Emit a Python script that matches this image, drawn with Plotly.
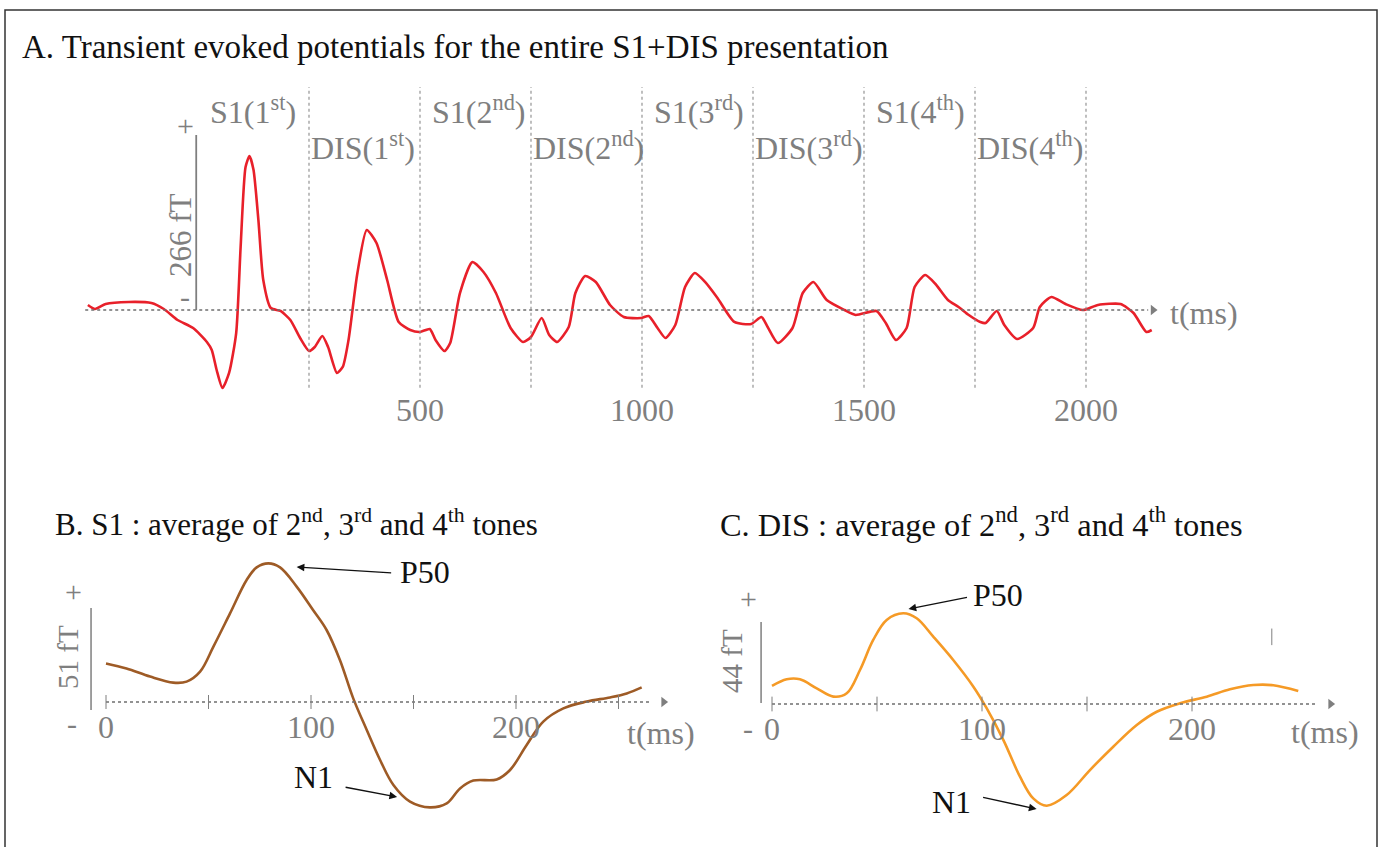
import plotly.graph_objects as go

# ---------------- data ----------------
# Panel A: transient evoked response for the whole S1+DIS sequence (time in ms, field in fT)
tA = [-248, -232, -208, -156, -105, -77, -46, -11, 20, 31, 42, 55, 70, 86, 96, 107, 116, 125, 136, 147,
      164, 186, 208, 230, 250, 263, 280, 293, 313, 326, 339, 359, 380, 402, 426, 452, 478, 500, 522, 535,
      555, 568, 590, 618, 643, 671, 704, 732, 750, 774, 791, 809, 835, 850, 872, 896, 928, 959, 998, 1015,
      1035, 1053, 1075, 1097, 1119, 1142, 1170, 1208, 1246, 1269, 1283, 1306, 1339, 1362, 1386, 1416, 1456,
      1481, 1528, 1549, 1572, 1596, 1614, 1638, 1661, 1689, 1713, 1736, 1762, 1774, 1799, 1816, 1845, 1881,
      1896, 1922, 1954, 1993, 2027, 2078, 2107, 2136, 2148]
vA = [7.6, 1.5, 9.1, 12.2, 10.6, 1.5, -15.2, -27.4, -48.6, -60.8, -91.2, -118.5, -95.7, -35, 95.7, 217, 234,
      213, 137, 45.6, 3, -1.5, -15.2, -42.6, -62.3, -56.2, -39.5, -56.2, -95.7, -86.6, -45.6, 56.2, 121.6,
      101.8, 45.6, -18.2, -30.4, -33.4, -28.9, -45.6, -62.3, -50.2, 25.8, 72.9, 57.8, 25.8, -27.4, -48.6,
      -41, -12.2, -38, -48.6, -25.8, 25.8, 51.7, 42.6, 7.6, -10.6, -12.2, -9.1, -27.4, -42.6, -22.8, 35,
      56.2, 42.6, 18.2, -18.2, -21.3, -10.6, -25.8, -50.2, -27.4, 25.8, 42.6, 15.2, 0, -7.6, -1.5, -19.8,
      -45.6, -27.4, 35, 53.2, 39.5, 15.2, 4.6, -7.6, -18.2, -19.8, -1.5, -22.8, -44.1, -27.4, 4.6, 19.8,
      9.1, 0, 7.6, 9.1, -4.6, -33.4, -30.4]
onsetsA = [250, 500, 750, 1000, 1250, 1500, 1750, 2000]
segLabels = ["S1(1<sup>st</sup>)", "DIS(1<sup>st</sup>)", "S1(2<sup>nd</sup>)", "DIS(2<sup>nd</sup>)",
             "S1(3<sup>rd</sup>)", "DIS(3<sup>rd</sup>)", "S1(4<sup>th</sup>)", "DIS(4<sup>th</sup>)"]
segOnsets = [0, 250, 500, 750, 1000, 1250, 1500, 1750]
ticksA = [500, 1000, 1500, 2000]
scaleA = 266

# Panel B: S1 average of 2nd, 3rd, 4th tones
tB = [0, 10, 21.5, 32.8, 39.3, 45.9, 52.4, 60.5, 68.6, 73.5, 79.2, 84.9, 93, 101, 107.6, 114.1, 120.6,
      127.2, 133.7, 140.2, 148.3, 158, 166.2, 172.7, 179.2, 190.6, 197.1, 205.2, 213.3, 223.1, 234.5,
      245.9, 254, 261.3]
vB = [19.3, 16.8, 12.7, 9.7, 10.2, 15.2, 27.7, 44.3, 61, 67.3, 69.3, 67.3, 57.7, 46, 36, 21, 1.8, -14,
      -29, -41.5, -49.8, -52.7, -50.7, -43.2, -39.3, -38.7, -34, -21.5, -9.8, -3.2, 0.2, 2.3, 4.3, 7.3]
ticksB = [0, 50, 100, 150, 200, 250]
labelsB = [0, 100, 200]
scaleB = 51
peaksB = {"P50": (93, 67.5), "N1": (142, -47.5)}

# Panel C: DIS average of 2nd, 3rd, 4th tones
tC = [0, 7, 13.3, 21.3, 29.2, 35.6, 41.9, 48.2, 54.6, 62.5, 68.9, 76.8, 86.3, 95.9, 102.2, 110.2, 118.1,
      124.4, 130.8, 140.3, 151.4, 162.5, 173.7, 183.2, 194.3, 207, 218.1, 229.2, 238.7, 250.6]
vC = [9.8, 13.4, 13.4, 8.5, 4, 5.8, 18.5, 34.8, 45.7, 49.3, 46.6, 36.6, 23.9, 9.4, -2.3, -19.6, -39.5,
      -51.3, -55.3, -49.5, -35.9, -23.2, -11.4, -4.2, 0.4, 4, 8, 10.3, 10.2, 7.1]
ticksC = [0, 50, 100, 150, 200]
labelsC = [0, 100, 200]
scaleC = 44
peaksC = {"P50": (65, 51.6), "N1": (126, -57.1)}

# ---------------- layout helpers ----------------
W, H = 1385, 847
def px(x): return x / W
def py(y): return 1 - y / H

def axis_ranges(box, t0, sx, v0, sy):
    x0, x1, y0, y1 = box
    xr = [(x0 - t0) / sx, (x1 - t0) / sx]
    yr = [(v0 - y1) / sy, (v0 - y0) / sy]
    return [px(x0), px(x1)], [py(y1), py(y0)], xr, yr

GREY = "#7f7f7f"
DOT = "#6f6f6f"
FONT = "Liberation Serif, Times New Roman, serif"
FS = 31        # panel titles
FSSEG = 32     # segment labels
FST = 32       # tick labels, t(ms), peaks
FSTITLE = 33

boxA = (30, 1300, 70, 395)
boxB = (30, 700, 545, 835)
boxC = (715, 1372, 560, 835)
dxA, dyA, xrA, yrA = axis_ranges(boxA, 198, 0.444, 310, 0.658)
dxB, dyB, xrB, yrB = axis_ranges(boxB, 106, 2.05, 702, 2.0)
dxC, dyC, xrC, yrC = axis_ranges(boxC, 772, 2.1, 704, 1.84)

fig = go.Figure()
fig.add_trace(go.Scatter(x=tA, y=vA, mode="lines", line=dict(color="#e8202a", width=2.6, shape="spline", smoothing=0.6),
                         xaxis="x", yaxis="y", hoverinfo="skip"))
fig.add_trace(go.Scatter(x=tB, y=vB, mode="lines", line=dict(color="#9e5b26", width=2.6, shape="spline", smoothing=1),
                         xaxis="x2", yaxis="y2", hoverinfo="skip"))
fig.add_trace(go.Scatter(x=tC, y=vC, mode="lines", line=dict(color="#f59a26", width=2.6, shape="spline", smoothing=1),
                         xaxis="x3", yaxis="y3", hoverinfo="skip"))

# axis arrowheads
arrow_ends = [("x", "y", 2151), ("x2", "y2", 272), ("x3", "y3", 266)]
for xa, ya, xe in arrow_ends:
    fig.add_trace(go.Scatter(x=[xe], y=[0], mode="markers", xaxis=xa, yaxis=ya, hoverinfo="skip",
                             marker=dict(symbol="triangle-right", size=9, color=GREY)))

shapes = []
# border
shapes.append(dict(type="rect", xref="paper", yref="paper", x0=px(5), x1=px(1377), y0=py(870), y1=py(10),
                   line=dict(color="#333333", width=1.5)))
# panel A zero line, dividers, scale bar
shapes.append(dict(type="line", xref="x", yref="y", x0=-254, x1=2140, y0=0, y1=0, line=dict(color=DOT, width=1.3, dash="dot")))
for t in onsetsA:
    shapes.append(dict(type="line", xref="x", yref="y", x0=t, x1=t, y0=-118, y1=339, line=dict(color="#8a8a8a", width=1.1, dash="dot")))
shapes.append(dict(type="line", xref="x", yref="y", x0=-4, x1=-4, y0=0, y1=scaleA, line=dict(color=GREY, width=1.8)))
# panel B
shapes.append(dict(type="line", xref="x2", yref="y2", x0=0, x1=265, y0=0, y1=0, line=dict(color=DOT, width=1.3, dash="dot")))
for t in ticksB:
    shapes.append(dict(type="line", xref="x2", yref="y2", x0=t, x1=t, y0=-3.5, y1=3.5, line=dict(color=GREY, width=1)))
shapes.append(dict(type="line", xref="x2", yref="y2", x0=-7.3, x1=-7.3, y0=-4, y1=-4 + scaleB, line=dict(color=GREY, width=1.5)))
# panel C
shapes.append(dict(type="line", xref="x3", yref="y3", x0=0, x1=260, y0=0, y1=0, line=dict(color=DOT, width=1.3, dash="dot")))
for t in ticksC:
    shapes.append(dict(type="line", xref="x3", yref="y3", x0=t, x1=t, y0=-4, y1=4, line=dict(color=GREY, width=1)))
shapes.append(dict(type="line", xref="x3", yref="y3", x0=238, x1=238, y0=32, y1=41, line=dict(color=GREY, width=1)))
shapes.append(dict(type="line", xref="x3", yref="y3", x0=-5.2, x1=-5.2, y0=0.5, y1=0.5 + scaleC, line=dict(color=GREY, width=1.5)))

ann = []
def txt(x, y, s, size=FS, color=GREY, xanchor="center", angle=0, xref="paper", yref="paper", xshift=0):
    ann.append(dict(x=x, y=y, xref=xref, yref=yref, text=s, showarrow=False, xanchor=xanchor, yanchor="middle",
                    textangle=angle, xshift=xshift, font=dict(family=FONT, size=size, color=color)))

# titles
txt(px(20), py(47), "A. Transient evoked potentials for the entire S1+DIS presentation", size=FSTITLE, color="#111111", xanchor="left")
txt(px(53), py(522), "B. S1 : average of 2<sup>nd</sup>, 3<sup>rd</sup> and 4<sup>th</sup> tones", color="#111111", xanchor="left")
txt(px(718), py(522), "C. DIS : average of 2<sup>nd</sup>, 3<sup>rd</sup> and 4<sup>th</sup> tones", size=32.4, color="#111111", xanchor="left")

# panel A labels
for lab, t in zip(segLabels, segOnsets):
    is_s1 = lab.startswith("S1")
    ann.append(dict(x=t, y=py(110) if is_s1 else py(146), xref="x", yref="paper", text=lab, showarrow=False,
                    xanchor="left", yanchor="middle", xshift=10 if is_s1 else 0,
                    font=dict(family=FONT, size=FSSEG, color=GREY)))
txt(px(185), py(126), "+", size=30)
txt(px(185), py(296), "-", size=30)
txt(px(180), py(235), "266 fT", size=31, angle=-90)
txt(px(1204), py(313), "t(ms)", size=FST)

# panel B labels
txt(px(73), py(591), "+", size=30)
txt(px(72), py(723), "-", size=30)
txt(px(68), py(657), "51 fT", size=29, angle=-90)
txt(px(661), py(733), "t(ms)", size=FST)
# panel C labels
txt(px(748), py(598), "+", size=30)
txt(px(748), py(728), "-", size=30)
txt(px(732), py(661), "44 fT", size=29, angle=-90)
txt(px(1325), py(732), "t(ms)", size=FST)

# peak annotations
def peak(xa, ya, name, head, tail_off, text_pos):
    ann.append(dict(x=head[0], y=head[1], xref=xa, yref=ya, text="", showarrow=True, ax=tail_off[0], ay=tail_off[1],
                    arrowhead=2, arrowsize=1.1, arrowwidth=1.4, arrowcolor="#111111"))
    ann.append(dict(x=text_pos[0], y=text_pos[1], xref=xa, yref=ya, text=name, showarrow=False, xanchor="center",
                    yanchor="middle", font=dict(family=FONT, size=FST, color="#111111")))

peak("x2", "y2", "P50", peaksB["P50"], (96, 6), (155.6, 65))
peak("x2", "y2", "N1", peaksB["N1"], (-53, -10), (101, -37.5))
peak("x3", "y3", "P50", peaksC["P50"], (60, -12), (107.6, 59.2))
peak("x3", "y3", "N1", peaksC["N1"], (-55, -12), (85.7, -53.3))

def xaxis(dom, rng, pos, vals, standoff):
    return dict(domain=dom, range=rng, anchor="free", position=pos, showgrid=False, zeroline=False, showline=False,
                ticks="", tickmode="array", tickvals=vals, ticktext=[str(v) for v in vals],
                tickfont=dict(family=FONT, size=FST, color=GREY), ticklabelstandoff=standoff, fixedrange=True)

def yaxis(dom, rng):
    return dict(domain=dom, range=rng, visible=False, showgrid=False, zeroline=False, fixedrange=True)

fig.update_layout(
    width=W, height=H, margin=dict(l=0, r=0, t=0, b=0),
    paper_bgcolor="white", plot_bgcolor="rgba(0,0,0,0)", showlegend=False,
    xaxis=xaxis(dxA, xrA, py(388), ticksA, 0),
    yaxis=yaxis(dyA, yrA),
    xaxis2=xaxis(dxB, xrB, py(702), labelsB, 3),
    yaxis2=yaxis(dyB, yrB),
    xaxis3=xaxis(dxC, xrC, py(704), labelsC, 3),
    yaxis3=yaxis(dyC, yrC),
    shapes=shapes, annotations=ann,
)
fig.write_html("out.html", config={"displayModeBar": False},
               post_script="document.body.style.margin='0';document.body.style.padding='0';")
